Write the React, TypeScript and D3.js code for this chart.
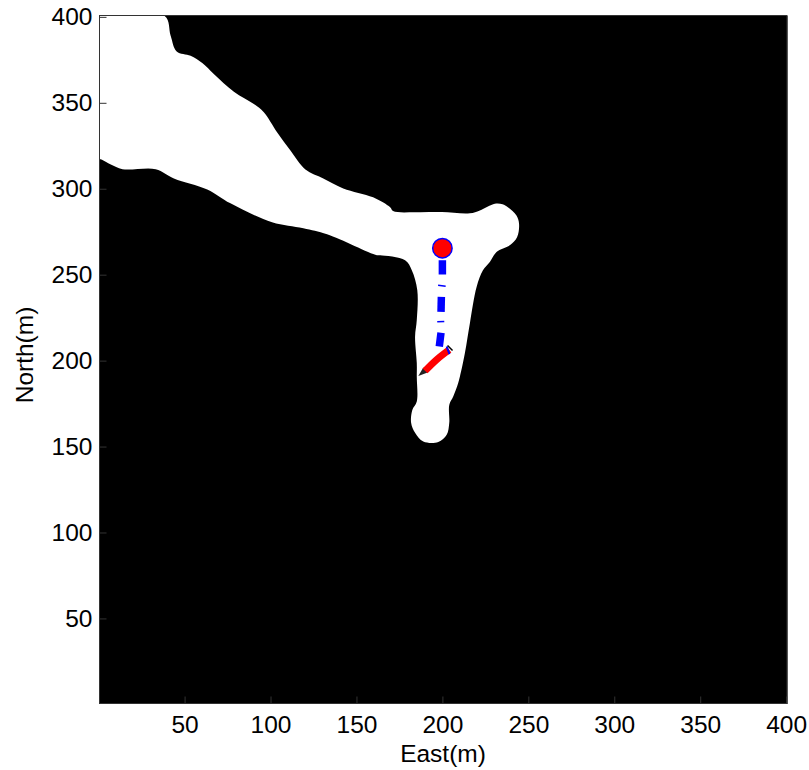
import React, { useEffect, useRef } from 'react';
import * as d3 from 'd3';

type Pt = [number, number];

const xTicks = [50, 100, 150, 200, 250, 300, 350, 400];
const yTicks = [50, 100, 150, 200, 250, 300, 350, 400];

// free space outline, [east, north]
const freeSpace: Pt[] = [
  [0.5, 400.5], [38.4, 400.5], [41.9, 389], [45.4, 379.9], [53.5, 377.4], [60.3, 373.1],
  [67, 366.8], [78.7, 356.5], [90.3, 349.3], [96.1, 344.5], [103.8, 332.9], [111.6, 322.2],
  [120.3, 311.2], [130.7, 306], [142.3, 300.2], [159.7, 295], [169.6, 289.2], [171.3, 287],
  [185.1, 286.3], [199.6, 286.4], [216, 285.7], [221.8, 287.4], [230.5, 291.3], [235, 291],
  [238.1, 289.3], [243.1, 284.5], [244.6, 279.7], [243.5, 271.9], [239.2, 267.1], [231.5, 263.2],
  [227.6, 257.4], [223.6, 252.6], [219.9, 242.9], [216, 221.8], [213.1, 204.4], [210.2, 190.7],
  [209.2, 187], [206.3, 179.1], [204, 174.2], [204, 163.8], [202.5, 156.8], [197.6, 152.6],
  [188.9, 152.9], [184.1, 158], [181.8, 163.8], [182.5, 171.3], [185.1, 176.2], [185.1, 190.7],
  [185.1, 198.6], [184.1, 213.9], [185.1, 223.6], [185.4, 241], [182.2, 252.6], [178.3, 258.4],
  [163.8, 261.3], [161.9, 261.3], [132.9, 273.5], [119.1, 277], [100.9, 280.5], [76.7, 291.5],
  [63.2, 299.6], [43.8, 306], [33.2, 311.4], [13.9, 311.4], [7.1, 314.1], [1.7, 317], [0.5, 317.5],
];

// planned path, thick dashes and the thin slivers between them
const pathThick: Pt[][] = [
  [[200, 258.4], [200, 250.1]],
  [[199.4, 237.1], [199.2, 228.4]],
  [[199.2, 216.2], [198.2, 208.2]],
];
const pathThin: Pt[][] = [
  [[197.5, 243.9], [201.9, 243.3]],
  [[197, 222.6], [201.1, 222.8]],
];

// vehicle track drawn over the path
const trackRed: Pt[] = [[189.9, 194], [196.7, 200.6], [204, 206.3]];
const trackTip: Pt[] = [[186, 191], [188.9, 196], [191.4, 193.1]];
const trackBand: Pt[] = [[202.5, 208.2], [204.1, 203.8]];
const trackEnd: Pt[] = [[203, 208.8], [205.9, 205.9]];

const goal: Pt = [200, 265.4];

export default function App() {
  const ref = useRef<SVGSVGElement>(null);

  useEffect(() => {
    const svg = d3.select(ref.current);
    svg.selectAll('*').remove();

    const x = d3.scaleLinear().domain([0.5, 400.5]).range([99.5, 787]);
    const y = d3.scaleLinear().domain([0.5, 400.5]).range([703.5, 16]);

    svg.append('rect')
      .attr('x', 100).attr('y', 16).attr('width', 687.5).attr('height', 688)
      .attr('fill', '#000');

    const line = d3.line<Pt>().x(d => x(d[0])).y(d => y(d[1]));
    const smooth = d3.line<Pt>().x(d => x(d[0])).y(d => y(d[1])).curve(d3.curveCatmullRom);
    const outline = d3.line<Pt>().x(d => x(d[0])).y(d => y(d[1]))
      .curve(d3.curveCatmullRomClosed.alpha(0.5));

    svg.append('path')
      .attr('d', outline(freeSpace))
      .attr('fill', '#fff');

    pathThick.forEach(seg => {
      svg.append('path')
        .attr('d', line(seg))
        .attr('stroke', '#0000ff')
        .attr('stroke-width', 7.5)
        .attr('fill', 'none');
    });
    pathThin.forEach(seg => {
      svg.append('path')
        .attr('d', line(seg))
        .attr('stroke', '#0000ff')
        .attr('stroke-width', 1.5)
        .attr('fill', 'none');
    });

    svg.append('path')
      .attr('d', line(trackTip) + 'Z')
      .attr('fill', '#222');
    svg.append('path')
      .attr('d', smooth(trackRed))
      .attr('stroke', '#ff0000')
      .attr('stroke-width', 7)
      .attr('fill', 'none');
    svg.append('path')
      .attr('d', line(trackBand))
      .attr('stroke', '#0000ff')
      .attr('stroke-width', 2)
      .attr('fill', 'none');
    svg.append('path')
      .attr('d', line(trackEnd))
      .attr('stroke', '#000')
      .attr('stroke-width', 1.5)
      .attr('fill', 'none');

    svg.append('circle')
      .attr('cx', x(goal[0])).attr('cy', y(goal[1])).attr('r', 9.7)
      .attr('fill', '#ff0000').attr('stroke', '#0000ff').attr('stroke-width', 1.5);

    svg.append('rect')
      .attr('x', 99.5).attr('y', 15.5).attr('width', 687.5).attr('height', 688)
      .attr('fill', 'none').attr('stroke', '#333').attr('stroke-width', 1);

    const font = 'Liberation Sans, Arial, sans-serif';

    const xAxis = svg.append('g')
      .attr('transform', 'translate(0,703.5)')
      .call(d3.axisBottom(x).tickValues(xTicks).tickSize(-7).tickPadding(12));
    const yAxis = svg.append('g')
      .attr('transform', 'translate(99.5,0)')
      .call(d3.axisLeft(y).tickValues(yTicks).tickSize(-7).tickPadding(7));
    [xAxis, yAxis].forEach(a => {
      a.select('.domain').remove();
      a.selectAll('line').attr('stroke', '#333');
      a.selectAll('text').attr('font-family', font).attr('font-size', 24.5).attr('fill', '#000');
    });

    svg.append('text')
      .attr('x', 443).attr('y', 762).attr('text-anchor', 'middle')
      .attr('font-family', font).attr('font-size', 24.5).text('East(m)');
    svg.append('text')
      .attr('transform', 'translate(33,355) rotate(-90)').attr('text-anchor', 'middle')
      .attr('font-family', font).attr('font-size', 24.5).text('North(m)');
  }, []);

  return (
    <svg
      ref={ref}
      width={809}
      height={770}
      style={{ position: 'absolute', left: 0, top: 0 }}
    />
  );
}
